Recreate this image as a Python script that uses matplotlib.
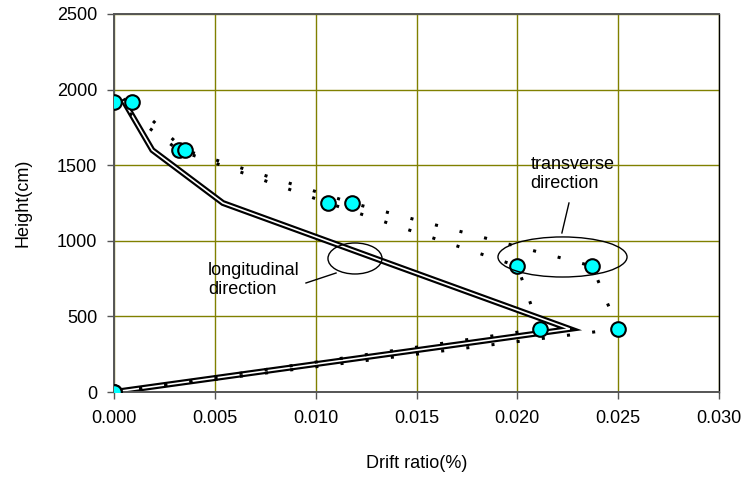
import matplotlib
matplotlib.use("Agg")
import matplotlib.pyplot as plt
from matplotlib.patches import Ellipse
from matplotlib.ticker import FormatStrFormatter

plt.rcParams['font.family'] = ['Liberation Sans', 'DejaVu Sans']

# storey heights (cm) and drift ratios
heights = [0, 417, 833, 1250, 1600, 1920]
trans_a = [0.0, 0.0211, 0.0200, 0.0106, 0.0032, 0.0000]
trans_b = [0.0, 0.0250, 0.0237, 0.0118, 0.0035, 0.0009]
longi = [0.0, 0.0226, 0.0140, 0.0054, 0.0019, 0.0005]

x_ticks = [0.000, 0.005, 0.010, 0.015, 0.020, 0.025, 0.030]
y_ticks = [0, 500, 1000, 1500, 2000, 2500]

FS = 13

fig = plt.figure(figsize=(7.47, 4.86), dpi=100)
ax = fig.add_axes([114 / 747, 1 - 392 / 486, 605 / 747, 378 / 486])

ax.set_xlim(0, 0.030)
ax.set_ylim(0, 2500)
ax.set_xticks(x_ticks)
ax.set_yticks(y_ticks)
ax.xaxis.set_major_formatter(FormatStrFormatter('%.3f'))
ax.grid(True, color='#808000', linewidth=1.0)
ax.set_axisbelow(True)

for side in ['left', 'bottom', 'top']:
    ax.spines[side].set_color('#555555')
    ax.spines[side].set_linewidth(1.4)
ax.spines['right'].set_color('black')
ax.spines['right'].set_linewidth(1.0)

ax.tick_params(axis='both', direction='out', length=5, width=1, color='#555555', labelsize=FS)
ax.tick_params(axis='x', pad=8)
ax.tick_params(axis='y', pad=7)

# longitudinal direction: double line (black with white core)
ax.plot(longi, heights, color='black', linewidth=4.3, solid_joinstyle='miter', zorder=2)
ax.plot(longi, heights, color='white', linewidth=1.2, solid_joinstyle='miter', zorder=2)

# transverse direction: sparse dotted lines with cyan markers
for xs in [trans_a, trans_b]:
    ax.plot(xs, heights, color='black', linewidth=2.2, linestyle=(0, (1, 7.3)), zorder=3)
for xs in [trans_a, trans_b]:
    ax.plot(xs, heights, linestyle='none', marker='o', markersize=10.5,
            markerfacecolor='#00FFFF', markeredgecolor='black', markeredgewidth=1.5, zorder=4)

# callouts
ax.add_patch(Ellipse((0.02224, 893), 0.0064, 265, fill=False, edgecolor='black', linewidth=1.0, zorder=5))
ax.plot([0.02256, 0.02221], [1250, 1052], color='black', linewidth=1.0, zorder=5)
ax.text(0.02065, 1442, 'transverse\ndirection', ha='left', va='center', fontsize=FS, linespacing=1.1, zorder=5)

ax.add_patch(Ellipse((0.01195, 883), 0.00268, 205, fill=False, edgecolor='black', linewidth=1.0, zorder=5))
ax.plot([0.00952, 0.01101], [721, 787], color='black', linewidth=1.0, zorder=5)
ax.text(0.00465, 741, 'longitudinal\ndirection', ha='left', va='center', fontsize=FS, linespacing=1.1, zorder=5)

ax.set_xlabel('Drift ratio(%)', fontsize=FS, labelpad=20)
ax.set_ylabel('Height(cm)', fontsize=FS, labelpad=18)

fig.savefig('out.png', dpi=100)
